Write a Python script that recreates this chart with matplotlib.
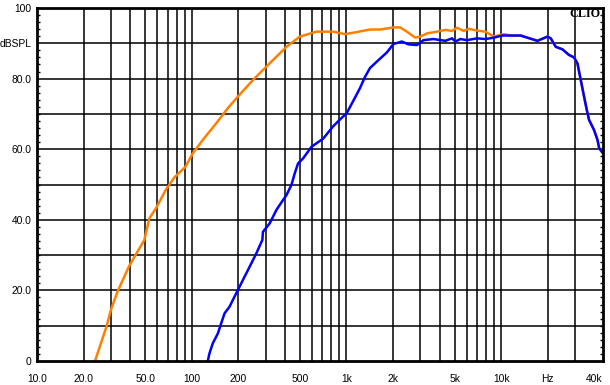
import numpy as np
import matplotlib
matplotlib.use("Agg")
import matplotlib.pyplot as plt

###############################################################################
# data (Hz, dBSPL)

orange_hz = [23.7, 28.1, 30.0, 33.1, 39.4, 49.4, 53.2, 58.8, 68.2, 77.2,
             91.0, 101.5, 117.8, 143.8, 171, 198.7, 248.7, 303.8, 409.6, 499.4,
             640.9, 821, 978, 1107, 1420, 1650, 2012, 2223, 2457, 2782,
             2997, 3313, 3846, 4355, 4811, 5185, 5721, 6165, 6988, 7911,
             8954, 10400, 11490]
orange_db = [0, 9.7, 14.4, 19.6, 26.9, 34.3, 40.4, 43.3, 48.6, 52.0,
             55.0, 58.8, 62.6, 67.3, 71.6, 74.9, 79.6, 83.4, 89.0, 91.9,
             93.3, 93.3, 92.6, 93.0, 93.9, 93.9, 94.5, 94.5, 93.3, 91.6,
             91.9, 92.8, 93.3, 93.8, 93.5, 94.4, 93.5, 94.1, 93.6, 93.3,
             91.9, 92.6, 92.2]

blue_hz = [127, 130.3, 136.8, 147.5, 155.1, 163.0, 175.6, 184.5, 198.7, 219.7,
           236.7, 261.6, 286.1, 288.7, 319.1, 352.7, 389.1, 409.5, 441.2, 463.5,
           486.9, 524.6, 594.6, 707.3, 821, 907.6, 1003, 1107, 1223, 1318,
           1420, 1570, 1823, 2012, 2280, 2516, 2853, 3150, 3656, 4355,
           4811, 5053, 5446, 6018, 6988, 7911, 8954, 10150, 11490]
blue_db = [0, 2.2, 5.0, 7.8, 10.7, 13.5, 15.4, 17.3, 20.1, 23.9,
           26.7, 30.5, 34.3, 36.6, 39.0, 42.8, 45.6, 47.0, 49.9, 53.2,
           56.0, 57.4, 60.7, 63.0, 66.5, 68.4, 70.2, 73.7, 77.3, 80.5,
           83.0, 84.8, 87.4, 89.8, 90.5, 89.7, 89.5, 90.9, 91.2, 90.7,
           91.4, 90.5, 91.2, 90.9, 91.4, 91.2, 91.6, 92.2, 92.2]

# above ~12 kHz both curves lie on top of each other
top_hz = [13360, 17150, 19910, 20910, 22530, 24860, 27440, 29570, 31110, 32680,
          34330, 35750, 36990, 39860, 41940, 42960, 45190]
top_db = [92.2, 90.7, 91.9, 91.4, 89.0, 88.3, 86.7, 86.0, 84.3, 79.6,
          74.9, 71.1, 68.3, 65.4, 62.6, 60.3, 59.0]

xtick_hz = [10, 20, 50, 100, 200, 500, 1000, 2000, 5000, 10000, 20000, 40000]
xtick_labels = ["10.0", "20.0", "50.0", "100", "200", "500",
                "1k", "2k", "5k", "10k", "Hz", "40k"]
ytick_db = [0, 20, 40, 60, 80, 90, 100]
ytick_labels = ["0", "20.0", "40.0", "60.0", "80.0", "dBSPL", "100"]

###############################################################################

plt.rcParams['font.family'] = ['Liberation Sans', 'DejaVu Sans']
plt.rcParams['font.size'] = 7.4

fig = plt.figure(figsize=(6.1, 3.85), dpi=100)
ax = fig.add_axes([37/610, 24/385, 566/610, 353/385])

ax.set_xscale('log')
ax.set_xlim(10, 45500)
ax.set_ylim(0, 100)

# grid
grid_hz = [m * 10**d for d in range(1, 5) for m in range(1, 10)]
for f in grid_hz:
    if 10 < f < 40000:
        ax.axvline(f, color='black', lw=1.1, zorder=1)
for lev in range(10, 100, 10):
    ax.axhline(lev, color='black', lw=1.1, zorder=1)

ax.plot(orange_hz + top_hz, orange_db + top_db, color='#FF8000', lw=1.8,
        zorder=3, clip_on=True)
ax.plot(blue_hz + top_hz, blue_db + top_db, color='#0000FF', lw=1.8,
        zorder=4, clip_on=True)

ax.set_xticks(xtick_hz)
ax.set_xticklabels(xtick_labels)
ax.xaxis.set_minor_locator(matplotlib.ticker.NullLocator())
ax.tick_params(axis='x', which='major', length=0, pad=9, colors='black')

ax.set_yticks(ytick_db)
ax.set_yticklabels(ytick_labels)
ax.set_yticks(np.arange(0, 101, 2), minor=True)
ax.tick_params(axis='y', which='major', length=0, pad=4)
ax.tick_params(axis='y', which='minor', direction='in', length=2.5, width=1,
               left=True, right=True)

for s in ax.spines.values():
    s.set_linewidth(2.0)
    s.set_zorder(5)

fig.text(600/610, 1 - 8/385, "CLIO", ha='right', va='top',
         family=['Liberation Serif', 'DejaVu Serif'], weight='bold', size=8.7)

plt.savefig("out.png", dpi=100)
